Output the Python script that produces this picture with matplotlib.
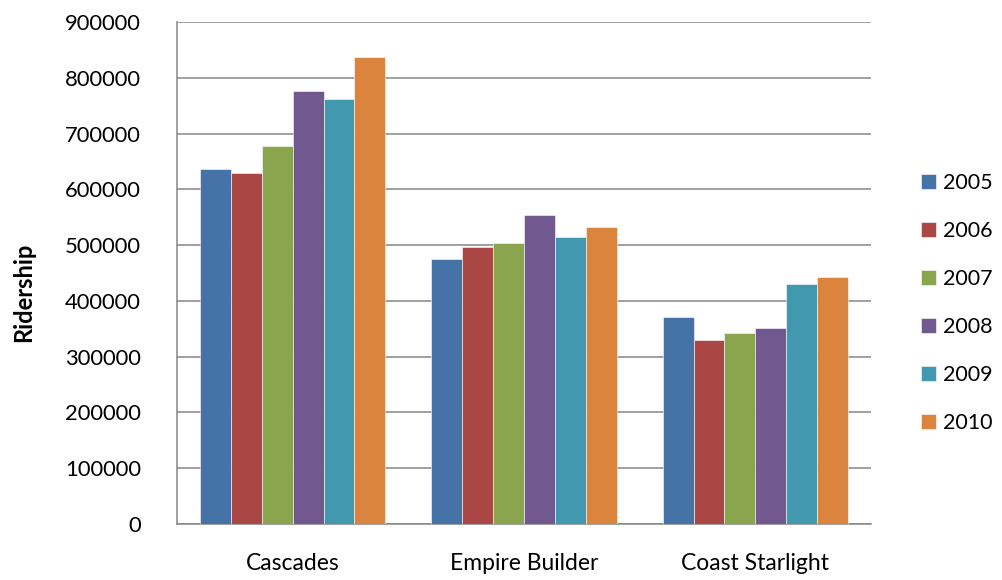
import numpy as np
import matplotlib
matplotlib.use("Agg")
import matplotlib.pyplot as plt

plt.rcParams["font.family"] = ["Lato", "DejaVu Sans"]

routes = ["Cascades", "Empire Builder", "Coast Starlight"]
years = ["2005", "2006", "2007", "2008", "2009", "2010"]
ridership = {
    "2005": [637000, 475000, 371000],
    "2006": [630000, 496000, 330000],
    "2007": [677000, 504000, 342000],
    "2008": [776000, 554000, 352000],
    "2009": [762000, 515000, 431000],
    "2010": [838000, 533000, 443000],
}
colors = ["#4572A7", "#AA4643", "#89A54E", "#71588F", "#4198AF", "#DB843D"]
yticks = list(range(0, 900001, 100000))


def main() -> None:
    fig = plt.figure(figsize=(10.03, 5.8), dpi=100)
    ax = fig.add_axes([177 / 1003, 56 / 580, 694 / 1003, 502 / 580])

    x = np.arange(len(routes))
    w = 0.8 / len(years)
    for i, (yr, c) in enumerate(zip(years, colors)):
        off = (i - (len(years) - 1) / 2) * w
        ax.bar(x + off, ridership[yr], w, color=c, label=yr,
               edgecolor="white", linewidth=0.4, zorder=3)

    ax.set_xlim(-0.5, len(routes) - 0.5)
    ax.set_ylim(0, 900000)
    ax.set_yticks(yticks)
    ax.set_yticklabels([str(t) for t in yticks], fontsize=15.8)
    ax.set_xticks(x)
    ax.set_xticklabels(routes, fontsize=16.5)
    ax.tick_params(axis="both", length=0)
    ax.tick_params(axis="y", pad=26)
    ax.tick_params(axis="x", pad=21)
    ax.grid(axis="y", color="#868686", lw=1.1, zorder=0)
    for s in ("top", "right"):
        ax.spines[s].set_visible(False)
    for s in ("left", "bottom"):
        ax.spines[s].set_color("#868686")
        ax.spines[s].set_linewidth(1.1)
    ax.set_ylabel("Ridership", fontsize=17, fontweight="bold")
    ax.yaxis.set_label_coords(-0.205, 0.462)

    fig.legend(loc="center left", bbox_to_anchor=(910 / 1003, 0.478),
               frameon=False, fontsize=15.5, handlelength=0.7,
               handleheight=0.7, handletextpad=0.35, labelspacing=1.3,
               borderpad=0)

    fig.savefig("out.png", dpi=100)


if __name__ == "__main__":
    main()
